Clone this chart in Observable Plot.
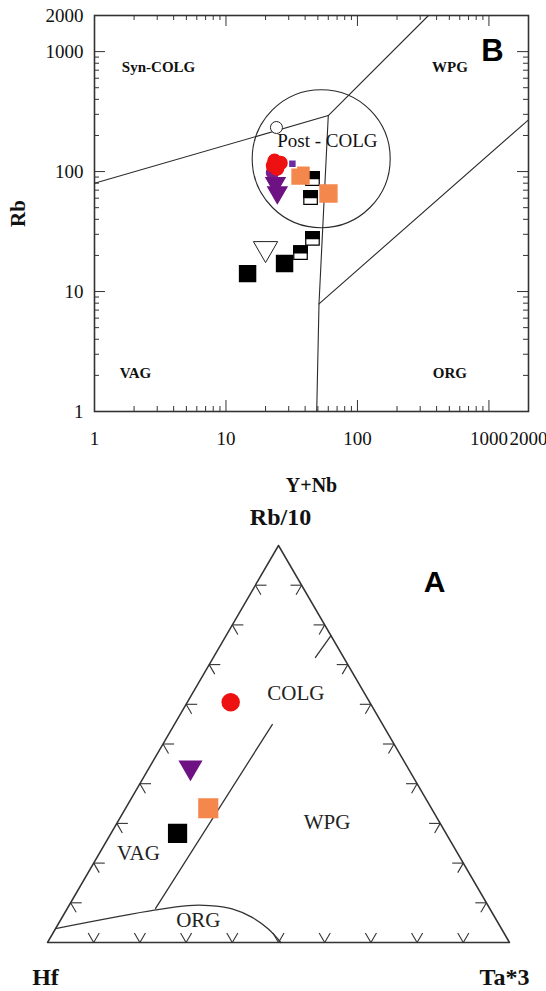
<!DOCTYPE html>
<html><head><meta charset="utf-8">
<script src="https://cdn.jsdelivr.net/npm/d3@7"></script>
<script src="https://cdn.jsdelivr.net/npm/@observablehq/plot@0.6"></script>
<style>
html,body{margin:0;padding:0;background:#fff;}
#chart{width:546px;}
#chart svg{display:block;}
</style></head><body><div id="chart"></div>
<script>
// ================= Panel B : Rb vs (Y+Nb), log-log =================
const xTickLabels = [1, 10, 100, 1000, 2000];
const yTickLabels = [1, 10, 100, 1000, 2000];
// field boundaries [Y+Nb, Rb]
const lineVagSyn   = [[1, 80], [60, 293]];
const lineSynWpg   = [[60, 293], [347, 2000]];
const lineVertical = [[60, 293], [51, 7.9], [49, 1]];
const lineOrgWpg   = [[51, 7.9], [2000, 270]];
const postColgCenter = [[53, 128]];
const regionNamesB = ["Syn-COLG", "WPG", "VAG", "ORG"];
const regionXB     = [3.07, 505, 2.05, 505];
const regionYB     = [736, 736, 2.07, 2.07];
const postColgLabel = [["Post - COLG", 59, 181]];
// samples [Y+Nb, Rb]
const openCircles     = [[24.2, 233]];
const redCircles      = [[23.4, 123], [26, 118], [24.5, 106], [22.8, 112]];
const purpleCircles   = [[22.6, 98]];
const purpleTriangles = [[24.6, 67], [23.8, 80]];
const purpleSquares   = [[32, 116]];
const orangeSquares   = [[36.9, 92.6], [60.2, 65.6]];
const halfSquares     = [[45.5, 87.4], [44, 60.7], [45.5, 27.7], [36.9, 21.1]];
const blackSquares    = [[14.6, 14.1], [27.9, 17.1]];
const openTriangles   = [[20, 22.8]];

// ================= Panel A : Rb/10 - Hf - Ta*3 ternary =================
// compositions [Hf, Rb/10, Ta*3]
const vertexNames = ["Hf", "Rb/10", "Ta*3"];
const vertices = [[1, 0, 0], [0, 1, 0], [0, 0, 1]];
const lineVagWpgA  = [[0.723, 0.086, 0.191], [0.239, 0.549, 0.212]];
const lineColgWpgA = [[0.061, 0.718, 0.221], [0.0, 0.773, 0.227]];
const orgCurveA = [[0.965, 0.035, 0], [0.725, 0.082, 0.193], [0.649, 0.093, 0.258], [0.603, 0.093, 0.304],
                   [0.558, 0.085, 0.357], [0.526, 0.064, 0.41], [0.505, 0.034, 0.461], [0.495, 0, 0.505]];
const regionNamesA = ["COLG", "WPG", "VAG", "ORG"];
const regionCompA  = [[0.149, 0.627, 0.224], [0.244, 0.302, 0.454], [0.691, 0.224, 0.085], [0.646, 0.055, 0.299]];
const redA    = [[0.301, 0.605, 0.094]];
const purpleA = [[0.470, 0.441, 0.089]];
const orangeA = [[0.483, 0.338, 0.179]];
const blackA  = [[0.581, 0.275, 0.144]];
const tickFractions = [0.1, 0.2, 0.3, 0.4, 0.5, 0.6, 0.7, 0.8, 0.9];

// ---------------- helpers ----------------
const serif = "Liberation Serif";
const tern = ([h, r, t]) => { const s = h + r + t; return {x: (t + r / 2) / s, y: (r / s) * Math.sqrt(3) / 2}; };
const TX = c => tern(c).x, TY = c => tern(c).y;
const topHalfSquare = {draw(ctx, size) { const s = Math.sqrt(size); ctx.rect(-s / 2, -s / 2, s, s / 2); }};

// minor/major ticks for log axes
const majors = [1, 10, 100, 1000];
const minors = [];
for (const m of [1, 10, 100, 1000]) for (let k = 2; k <= 9; k++) if (k * m <= 2000) minors.push(k * m);

const innerH = 396, innerW = 434;
const tickLen = 5, majLen = 11;
const lineStroke = "#2a2a2a";

const plotB = Plot.plot({
  width: 546, height: 500,
  marginLeft: 94, marginRight: 18, marginTop: 15, marginBottom: 89,
  x: {type: "log", domain: [1, 2000], axis: null},
  y: {type: "log", domain: [1, 2000], axis: null},
  style: {fontFamily: serif, background: "white", color: "black"},
  marks: [
    Plot.tickX(minors, {x: d => d, insetTop: innerH - tickLen, stroke: "#333"}),
    Plot.tickX(minors, {x: d => d, insetBottom: innerH - tickLen, stroke: "#333"}),
    Plot.tickX(majors, {x: d => d, insetTop: innerH - majLen, stroke: "#333"}),
    Plot.tickX(majors, {x: d => d, insetBottom: innerH - majLen, stroke: "#333"}),
    Plot.tickY(minors, {y: d => d, insetRight: innerW - tickLen, stroke: "#333"}),
    Plot.tickY(minors, {y: d => d, insetLeft: innerW - tickLen, stroke: "#333"}),
    Plot.tickY(majors, {y: d => d, insetRight: innerW - majLen, stroke: "#333"}),
    Plot.tickY(majors, {y: d => d, insetLeft: innerW - majLen, stroke: "#333"}),
    Plot.frame({stroke: "#333", strokeWidth: 1.6}),
    // tick labels
    Plot.text(xTickLabels, {x: d => d, frameAnchor: "bottom", lineAnchor: "middle", dy: 27, text: d => String(d), fontSize: 19, fill: "#111"}),
    Plot.text(yTickLabels, {y: d => d, frameAnchor: "left", lineAnchor: "middle", dx: -11, textAnchor: "end", text: d => String(d), fontSize: 19, fill: "#111"}),
    Plot.text(["Y+Nb"], {frameAnchor: "bottom", lineAnchor: "middle", textAnchor: "middle", dy: 74, fontSize: 20, fontWeight: "bold", fill: "#111"}),
    Plot.text(["Rb"], {frameAnchor: "left", lineAnchor: "middle", textAnchor: "middle", dx: -76, rotate: -90, fontSize: 21, fontWeight: "bold", fill: "#111"}),
    // boundaries
    Plot.line(lineVagSyn, {x: d => d[0], y: d => d[1], stroke: lineStroke, strokeWidth: 1.1}),
    Plot.line(lineSynWpg, {x: d => d[0], y: d => d[1], stroke: lineStroke, strokeWidth: 1.1}),
    Plot.line(lineVertical, {x: d => d[0], y: d => d[1], stroke: lineStroke, strokeWidth: 1.1}),
    Plot.line(lineOrgWpg, {x: d => d[0], y: d => d[1], stroke: lineStroke, strokeWidth: 1.1}),
    Plot.dot(postColgCenter, {x: d => d[0], y: d => d[1], r: 69, stroke: lineStroke, fill: "none", strokeWidth: 1.1}),
    // region labels
    Plot.text(regionNamesB, {x: (d, i) => regionXB[i], y: (d, i) => regionYB[i], text: d => d, fontSize: 15, fontWeight: "bold", fill: "#111"}),
    Plot.text(postColgLabel, {x: d => d[1], y: d => d[2], text: d => d[0], fontSize: 19, fill: "#111"}),
    Plot.text(["B"], {frameAnchor: "top-right", textAnchor: "middle", lineAnchor: "middle", dx: -36, dy: 36, fontSize: 31, fontWeight: "bold", fontFamily: "Liberation Sans", fill: "#000"}),
    // samples
    Plot.dot(openCircles, {x: d => d[0], y: d => d[1], r: 6, stroke: "#222", fill: "white", strokeWidth: 1}),
    Plot.dot(openTriangles, {x: d => d[0], y: d => d[1], symbol: "triangle", rotate: 180, r: 9, stroke: "#222", fill: "white", strokeWidth: 1}),
    Plot.dot(blackSquares, {x: d => d[0], y: d => d[1], symbol: "square", r: 9, fill: "black", stroke: "black"}),
    Plot.dot(halfSquares, {x: d => d[0], y: d => d[1], symbol: "square", r: 7.6, fill: "white", stroke: "black", strokeWidth: 1.2}),
    Plot.dot(halfSquares, {x: d => d[0], y: d => d[1], symbol: topHalfSquare, r: 7.6, fill: "black", stroke: "black"}),
    Plot.dot(orangeSquares, {x: d => d[0], y: d => d[1], symbol: "square", r: 9.5, fill: "#f4874b", stroke: "#f4874b"}),
    Plot.dot(purpleSquares, {x: d => d[0], y: d => d[1], symbol: "square", r: 4.5, fill: "#6a2da0", stroke: "white"}),
    Plot.dot(purpleCircles, {x: d => d[0], y: d => d[1], r: 6, fill: "#7d1e8a", stroke: "#7d1e8a"}),
    Plot.dot(purpleTriangles, {x: d => d[0], y: d => d[1], symbol: "triangle", rotate: 180, r: 7, fill: "#6e1283", stroke: "#6e1283"}),
    Plot.dot(redCircles, {x: d => d[0], y: d => d[1], r: 6.5, fill: "#ee1111", stroke: "#ee1111"})
  ]
});

// ---------------- ternary panel ----------------
const tickArms = [];
const d = 0.024;
for (const f of tickFractions) {
  const pb = [1 - f, 0, f];           // base: arms toward Rb
  tickArms.push([pb, [pb[0] - d, d, pb[2]]], [pb, [pb[0], d, pb[2] - d]]);
  const pl = [1 - f, f, 0];           // left edge: arms toward Ta
  tickArms.push([pl, [pl[0] - d, pl[1], d]], [pl, [pl[0], pl[1] - d, d]]);
  const pr = [0, f, 1 - f];           // right edge: arms toward Hf
  tickArms.push([pr, [d, pr[1], pr[2] - d]], [pr, [d, pr[1] - d, pr[2]]]);
}

const triangleClosed = [...vertices, vertices[0]];
const plotA = Plot.plot({
  width: 546, height: 491,
  marginLeft: 47, marginRight: 37, marginTop: 45, marginBottom: 49,
  x: {domain: [0, 1], axis: null},
  y: {domain: [0, Math.sqrt(3) / 2], axis: null},
  style: {fontFamily: serif, background: "white", color: "black"},
  marks: [
    Plot.line(triangleClosed, {x: TX, y: TY, stroke: "#333", strokeWidth: 1.5}),
    Plot.link(tickArms, {x1: a => TX(a[0]), y1: a => TY(a[0]), x2: a => TX(a[1]), y2: a => TY(a[1]), stroke: "#333", strokeWidth: 1.1}),
    Plot.line(lineVagWpgA, {x: TX, y: TY, stroke: "#333", strokeWidth: 1.3}),
    Plot.line(lineColgWpgA, {x: TX, y: TY, stroke: "#333", strokeWidth: 1.3}),
    Plot.line(orgCurveA, {x: TX, y: TY, curve: "catmull-rom", stroke: "#333", strokeWidth: 1.3}),
    Plot.text(regionNamesA, {x: (n, i) => TX(regionCompA[i]), y: (n, i) => TY(regionCompA[i]), text: n => n, fontSize: 21, fill: "#222"}),
    Plot.text([vertexNames[0]], {x: () => TX(vertices[0]), y: () => TY(vertices[0]), text: n => n, dx: -2, dy: 35, fontSize: 24, fontWeight: "bold", fill: "#111"}),
    Plot.text([vertexNames[1]], {x: () => TX(vertices[1]), y: () => TY(vertices[1]), text: n => n, dx: 2, dy: -28, fontSize: 24, fontWeight: "bold", fill: "#111"}),
    Plot.text([vertexNames[2]], {x: () => TX(vertices[2]), y: () => TY(vertices[2]), text: n => n, dx: -5, dy: 35, fontSize: 24, fontWeight: "bold", fill: "#111"}),
    Plot.text(["A"], {frameAnchor: "top-right", textAnchor: "middle", lineAnchor: "middle", dx: -75, dy: 37, fontSize: 30, fontWeight: "bold", fontFamily: "Liberation Sans", fill: "#000"}),
    Plot.dot(redA, {x: TX, y: TY, r: 8.5, fill: "#ee1111", stroke: "#ee1111"}),
    Plot.dot(purpleA, {x: TX, y: TY, symbol: "triangle", rotate: 180, r: 8, fill: "#6e1283", stroke: "#6e1283"}),
    Plot.dot(orangeA, {x: TX, y: TY, symbol: "square", r: 10.5, fill: "#f4874b", stroke: "#f4874b"}),
    Plot.dot(blackA, {x: TX, y: TY, symbol: "square", r: 10, fill: "black", stroke: "black"})
  ]
});

document.getElementById("chart").append(plotB, plotA);
</script></body></html>
